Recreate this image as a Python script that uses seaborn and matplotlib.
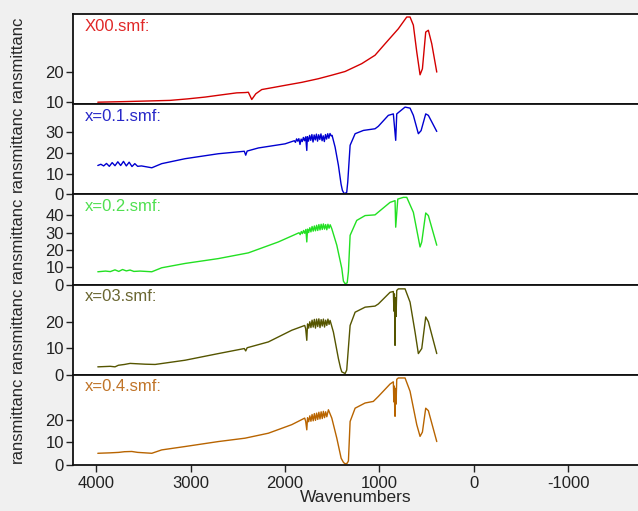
"""Stacked FTIR transmittance spectra, five samples sharing one wavenumber axis."""

import matplotlib
matplotlib.use("Agg")
import matplotlib.pyplot as plt
import pandas as pd
import seaborn as sns

BG = "#f0f0f0"

LABELS = ["X00.smf:", "x=0.1.smf:", "x=0.2.smf:", "x=03.smf:", "x=0.4.smf:"]
LINE_COLORS = ["#d40000", "#0000d0", "#22e022", "#555500", "#b86400"]
TEXT_COLORS = ["#e02828", "#2828c8", "#50e050", "#6a6630", "#c07428"]

# x00 sample
WN_X00 = [3982, 3693, 3450, 3216, 3030, 2845, 2680, 2510, 2420, 2387, 2351, 2308,
          2245, 2120, 1998, 1820, 1645, 1500, 1362, 1186, 1045, 939, 798, 709,
          674, 639, 603, 568, 543, 508, 480, 444, 391]
T_X00 = [10.0, 10.2, 10.4, 10.6, 11.1, 11.7, 12.4, 13.1, 13.2, 13.3, 10.9, 12.8,
         14.2, 14.9, 15.6, 16.6, 17.8, 19.0, 20.2, 22.8, 25.6, 29.4, 34.4, 38.3,
         38.3, 35.6, 26.7, 19.1, 21.1, 33.3, 33.9, 29.4, 20.0]

# x = 0.1
WN_X01 = [3982, 3950, 3920, 3890, 3860, 3830, 3800, 3770, 3740, 3710, 3680, 3650,
          3620, 3590, 3560, 3520, 3410, 3305, 3057, 2705, 2430, 2415, 2400, 2281,
          1998, 1900, 1888, 1876, 1864, 1852, 1840, 1828, 1816, 1804, 1792, 1780,
          1768, 1762, 1750, 1738, 1726, 1714, 1702, 1690, 1678, 1666, 1654, 1642,
          1630, 1618, 1606, 1594, 1582, 1570, 1558, 1546, 1534, 1522, 1510, 1500,
          1468, 1433, 1405, 1391, 1375, 1362, 1345, 1334, 1309, 1256, 1168, 1045,
          1010, 904, 851, 826, 815, 727, 674, 639, 586, 557, 508, 480, 391]
T_X01 = [14.0, 14.6, 13.8, 15.0, 13.6, 15.4, 13.9, 15.8, 14.0, 16.0, 13.8, 15.6,
         13.5, 14.9, 13.6, 13.8, 12.9, 14.9, 17.3, 19.7, 20.9, 19.0, 21.0, 22.5,
         24.5, 26.0, 25.2, 26.9, 25.8, 27.0, 24.2, 26.8, 25.6, 27.6, 26.0, 27.9,
         21.3, 28.0, 25.8, 28.6, 26.2, 29.0, 25.4, 28.8, 26.4, 29.2, 25.8, 28.9,
         26.6, 29.3, 26.0, 28.4, 25.6, 29.0, 26.8, 29.4, 27.2, 29.5, 28.4, 28.6,
         22.9, 14.1, 5.0, 2.0, 0.6, 0.5, 1.0, 6.0, 23.8, 29.4, 31.0, 31.8,
         33.0, 38.3, 39.0, 26.2, 39.0, 42.3, 41.8, 38.3, 29.4, 30.9, 39.0, 38.3, 30.5]

# x = 0.2
WN_X02 = [3982, 3900, 3850, 3800, 3760, 3720, 3680, 3640, 3600, 3534, 3410, 3305,
          3057, 2705, 2387, 2069, 1850, 1838, 1826, 1814, 1802, 1790, 1778, 1768,
          1760, 1748, 1736, 1724, 1712, 1700, 1688, 1676, 1664, 1652, 1640, 1628,
          1616, 1604, 1592, 1580, 1568, 1556, 1544, 1532, 1520, 1503, 1450, 1397,
          1380, 1362, 1340, 1327, 1309, 1239, 1150, 1045, 1010, 886, 833, 826,
          804, 745, 709, 639, 568, 550, 508, 480, 391]
T_X02 = [7.4, 7.8, 7.5, 8.5, 7.6, 8.7, 7.9, 8.4, 7.6, 7.8, 7.4, 9.7,
         12.2, 15.0, 18.3, 24.6, 29.9, 28.8, 30.6, 29.4, 31.2, 29.6, 31.8, 24.6,
         32.0, 30.0, 32.8, 30.4, 33.5, 30.8, 33.8, 31.0, 34.2, 31.2, 34.6, 31.5,
         34.8, 31.8, 35.0, 32.0, 34.6, 31.6, 34.8, 32.5, 34.5, 32.2, 22.7, 9.3,
         2.0, 0.5, 1.0, 7.4, 28.4, 37.0, 39.8, 40.2, 41.8, 47.4, 48.4, 33.1,
         49.3, 50.3, 50.3, 41.7, 21.7, 24.6, 41.3, 39.8, 22.7]

# x = 0.3
WN_X03 = [3982, 3850, 3800, 3764, 3700, 3640, 3587, 3480, 3375, 3057, 2705, 2430,
          2415, 2400, 2175, 1927, 1790, 1780, 1768, 1760, 1748, 1736, 1724, 1712,
          1700, 1688, 1676, 1664, 1652, 1640, 1628, 1616, 1604, 1592, 1580, 1568,
          1556, 1544, 1532, 1521, 1486, 1433, 1410, 1397, 1362, 1345, 1309, 1256,
          1150, 1045, 1010, 886, 851, 845, 840, 836, 833, 828, 822, 815, 798,
          727, 674, 621, 586, 550, 508, 480, 391]
T_X03 = [3.0, 3.2, 3.0, 3.6, 3.9, 4.3, 4.2, 4.0, 3.9, 5.5, 8.0, 9.9,
         9.0, 10.2, 12.4, 16.8, 18.6, 17.4, 13.0, 19.2, 17.6, 20.0, 17.8, 20.6,
         18.0, 20.9, 17.6, 21.0, 18.2, 21.1, 17.8, 20.8, 18.4, 21.0, 18.0, 20.6,
         18.6, 21.0, 19.0, 20.5, 16.1, 6.1, 2.5, 1.1, 0.5, 1.8, 18.6, 23.6,
         25.5, 25.9, 26.7, 31.1, 31.4, 24.0, 30.5, 20.0, 11.1, 29.0, 22.0, 31.8, 32.4,
         32.4, 27.4, 16.1, 8.0, 9.9, 21.8, 20.0, 8.0]

# x = 0.4
WN_X04 = [3982, 3850, 3760, 3700, 3622, 3560, 3410, 3305, 3057, 2705, 2422, 2175,
          1927, 1790, 1780, 1768, 1760, 1748, 1736, 1724, 1712, 1700, 1688, 1676,
          1664, 1652, 1640, 1628, 1616, 1604, 1592, 1580, 1568, 1556, 1539, 1503,
          1450, 1404, 1380, 1362, 1340, 1327, 1309, 1256, 1150, 1063, 1010, 886,
          851, 846, 841, 836, 833, 828, 822, 815, 798, 727, 674, 603, 568,
          543, 508, 480, 391]
T_X04 = [5.2, 5.4, 5.6, 5.9, 6.0, 5.6, 5.2, 6.7, 8.2, 10.4, 11.9, 14.1,
         17.9, 20.8, 19.4, 15.6, 21.0, 19.2, 21.8, 19.4, 22.4, 19.6, 22.8, 19.8,
         23.0, 20.2, 23.4, 20.4, 23.6, 20.6, 23.8, 21.0, 23.6, 21.4, 24.5, 20.8,
         11.9, 3.0, 1.2, 0.5, 0.8, 1.8, 19.3, 25.2, 27.5, 28.2, 30.4, 35.9,
         36.9, 28.0, 35.0, 24.0, 21.6, 34.0, 27.0, 38.0, 38.6, 38.6, 32.7, 17.9, 12.7,
         14.6, 25.2, 24.1, 10.4]

WAVENUMBERS = [WN_X00, WN_X01, WN_X02, WN_X03, WN_X04]
TRANSMITTANCE = [T_X00, T_X01, T_X02, T_X03, T_X04]
Y_LIMITS = [(9.33, 39.3), (0, 43.7), (0, 52), (0, 34), (0, 40)]
Y_TICKS = [[10, 20], [0, 10, 20, 30], [0, 10, 20, 30, 40], [0, 10, 20], [0, 10, 20]]
X_TICKS = [4000, 3000, 2000, 1000, 0, -1000]

sns.set_theme(style="white")
plt.rcParams.update({
    "font.family": ["Liberation Sans", "DejaVu Sans"],
    "figure.facecolor": BG,
    "axes.facecolor": "white",
    "axes.edgecolor": "#111111",
    "axes.unicode_minus": False,
    "xtick.color": "#222222",
    "ytick.color": "#222222",
    "text.color": "#222222",
})

fig, axes = plt.subplots(5, 1, figsize=(6.38, 5.11), dpi=100, sharex=True)
fig.subplots_adjust(left=0.1144, right=1.0, top=0.9726, bottom=0.09, hspace=0)

for i, ax in enumerate(axes):
    df = pd.DataFrame({"wn": WAVENUMBERS[i], "t": TRANSMITTANCE[i]})
    sns.lineplot(data=df, x="wn", y="t", sort=False, estimator=None,
                 color=LINE_COLORS[i], linewidth=1.0, ax=ax)
    ax.set_ylim(*Y_LIMITS[i])
    ax.set_yticks(Y_TICKS[i])
    ax.set_ylabel("ransmittanc", fontsize=12)
    ax.yaxis.set_label_coords(-0.086, 0.5)
    ax.text(0.021, 0.865, LABELS[i], transform=ax.transAxes, ha="left",
            va="center", fontsize=12, color=TEXT_COLORS[i])
    ax.tick_params(axis="y", direction="out", length=5, width=1, pad=1.5,
                   labelsize=12, left=True)
    ax.spines["right"].set_visible(False)
    for side in ("top", "bottom", "left"):
        ax.spines[side].set_linewidth(1.3)
    ax.set_xlabel("")

ax = axes[-1]
ax.set_xlim(4245, -1741)
ax.set_xticks(X_TICKS)
ax.tick_params(axis="x", direction="out", length=5, width=1, pad=3,
               labelsize=12, bottom=True)
ax.set_xlabel("Wavenumbers", fontsize=12.5, labelpad=-1)

fig.savefig("out.png", dpi=100, facecolor=BG)
